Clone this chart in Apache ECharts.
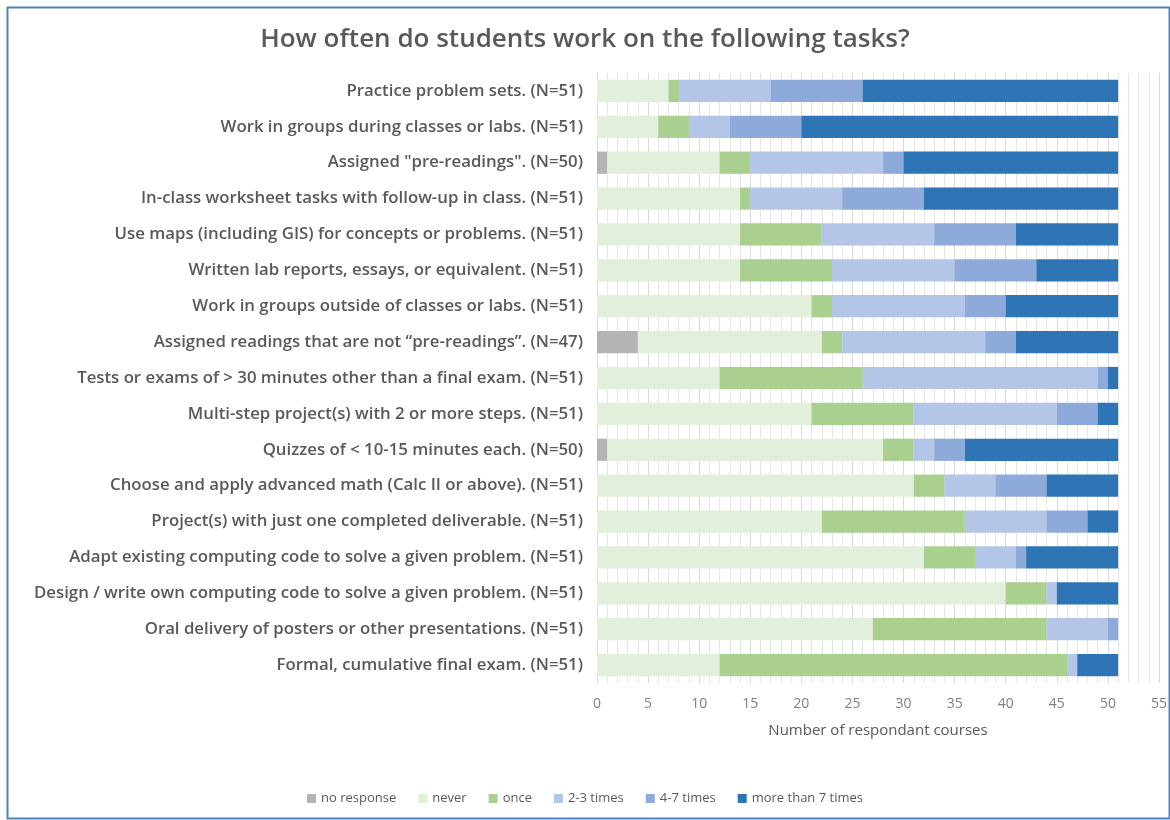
<!DOCTYPE html>
<html>
<head>
<meta charset="utf-8">
<script src="https://cdn.jsdelivr.net/npm/echarts@6/dist/echarts.min.js"></script>
<style>
html,body{margin:0;padding:0;background:#fff;}
#c{width:1170px;height:820px;}
</style>
</head>
<body>
<div id="c"></div>
<script>
const categories = [
  'Practice problem sets. (N=51)',
  'Work in groups during classes or labs. (N=51)',
  'Assigned "pre-readings". (N=50)',
  'In-class worksheet tasks with follow-up in class. (N=51)',
  'Use maps (including GIS) for concepts or problems. (N=51)',
  'Written lab reports, essays, or equivalent. (N=51)',
  'Work in groups outside of classes or labs. (N=51)',
  'Assigned readings that are not \u201cpre-readings\u201d. (N=47)',
  'Tests or exams of > 30 minutes other than a final exam. (N=51)',
  'Multi-step project(s) with 2 or more steps. (N=51)',
  'Quizzes of < 10-15 minutes each. (N=50)',
  'Choose and apply advanced math (Calc II or above). (N=51)',
  'Project(s) with just one completed deliverable. (N=51)',
  'Adapt existing computing code to solve a given problem. (N=51)',
  'Design / write own computing code to solve a given problem. (N=51)',
  'Oral delivery of posters or other presentations. (N=51)',
  'Formal, cumulative final exam. (N=51)'
];
const noResponse = [0,0,1,0,0,0,0,4,0,0,1,0,0,0,0,0,0];
const never      = [7,6,11,14,14,14,21,18,12,21,27,31,22,32,40,27,12];
const once       = [1,3,3,1,8,9,2,2,14,10,3,3,14,5,4,17,34];
const times2to3  = [9,4,13,9,11,12,13,14,23,14,2,5,8,4,1,6,1];
const times4to7  = [9,7,2,8,8,8,4,3,1,4,3,5,4,1,0,1,0];
const moreThan7  = [25,31,21,19,10,8,11,10,1,2,15,7,3,9,6,0,4];
const xTicks = {min:0, max:55, interval:5};

const seriesDefs = [
  ['no response', noResponse, '#b4b4b4'],
  ['never', never, '#e2efda'],
  ['once', once, '#a9d08e'],
  ['2-3 times', times2to3, '#b4c6e7'],
  ['4-7 times', times4to7, '#8eaadb'],
  ['more than 7 times', moreThan7, '#2e75b6']
];

const chart = echarts.init(document.getElementById('c'), null, {renderer:'canvas'});
chart.setOption({
  backgroundColor:'#ffffff',
  animation:false,
  graphic:[{
    type:'rect', left:5, top:5, z:-1,
    shape:{width:1162, height:811},
    style:{fill:'none', stroke:'#4f81bd', lineWidth:2}
  }],
  title:{
    text:'How often do students work on the following tasks?',
    left:'center', top:22,
    textStyle:{fontFamily:'Open Sans', fontWeight:600, fontSize:26, color:'#595959'}
  },
  legend:{
    top:787, left:'center',
    itemWidth:9, itemHeight:9, itemGap:22,
    icon:'rect',
    textStyle:{fontFamily:'Open Sans', fontSize:13, color:'#595959'},
    data: seriesDefs.map(s=>s[0])
  },
  grid:{left:597, right:10, top:73, height:610},
  xAxis:{
    type:'value', min:xTicks.min, max:xTicks.max, interval:xTicks.interval,
    name:'Number of respondant courses', nameLocation:'middle', nameGap:40,
    nameTextStyle:{fontFamily:'Open Sans', fontSize:15, color:'#595959'},
    axisLabel:{fontFamily:'Open Sans', fontSize:14, color:'#7f7f7f', margin:14},
    axisLine:{show:false}, axisTick:{show:false},
    splitLine:{show:true, lineStyle:{color:'#d9d9d9', width:1}},
    minorTick:{show:false, splitNumber:5},
    minorSplitLine:{show:true, lineStyle:{color:'#e6e6e6', width:1}}
  },
  yAxis:{
    type:'category', data:categories, inverse:true,
    axisLine:{show:false}, axisTick:{show:false},
    axisLabel:{fontFamily:'Open Sans', fontWeight:600, fontSize:16.8, color:'#595959', margin:14}
  },
  series: seriesDefs.map(s=>({
    name:s[0], type:'bar', stack:'total', data:s[1],
    barCategoryGap:'38%',
    itemStyle:{color:s[2]}
  }))
});
</script>
</body>
</html>
